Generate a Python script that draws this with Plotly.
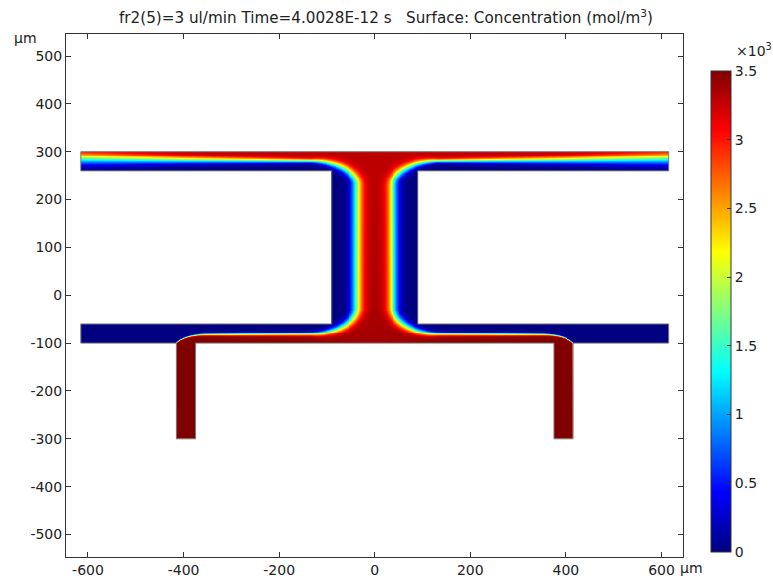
import math
import numpy as np
import plotly.graph_objects as go

# ---------------- geometry (um) ----------------
ch_x_end = 615            # half length of horizontal channels
top_ch_y = [260, 300]     # top channel
bot_ch_y = [-100, -60]    # bottom channel
mid_ch_x = 90             # half width of central vertical channel
leg_x = [375, 415]        # outlet legs (mirrored)
leg_y_bottom = -300

# ---------------- concentration interface (left half) ----------------
leg_curve_x = [-415, -408, -400, -392, -384, -375, -365, -355]
leg_curve_y = [-100, -94.5, -90.5, -87.5, -85.5, -84, -83, -82.5]
bottom_iface_y = -81
vert_iface_x = -38
bc_rx, bc_ry = 95, 55      # bottom corner of interface
tc_rx, tc_ry = 95, 50      # top corner of interface
top_iface_x = [-133, -400, -615, -660]
top_iface_y = [280, 282, 285, 285]
# interface width (um) and plateau value (mol/m3) at the key nodes
node_w = [1, 1.5, 3.5, 5.5, 17, 17, 5.5, 10, 17, 17]
node_hi = [3500, 3500, 3500, 3450, 3350, 3300, 3280, 3290, 3300, 3300]

cmax = 3500
cbar_vals = [0, 500, 1000, 1500, 2000, 2500, 3000, 3500]
cbar_text = ["0", "0.5", "1", "1.5", "2", "2.5", "3", "3.5"]
xticks = [-600, -400, -200, 0, 200, 400, 600]
xtick_text = ["-600", "-400", "-200", "0", "200", "400", "600"]
yticks = [-500, -400, -300, -200, -100, 0, 100, 200, 300, 400, 500]
ytick_text = ["-500", "-400", "-300", "-200", "-100", "0", "100", "200", "300", "400", "500"]

# ---------------- build interface path ----------------
pts = []
keys = []
def add(p, key=False):
    pts.append(p)
    if key:
        keys.append(len(pts) - 1)

add((-415, leg_y_bottom), True)
for i, (x, y) in enumerate(zip(leg_curve_x, leg_curve_y)):
    add((x, y), i == 0 or i == len(leg_curve_x) - 1)
cx, cy = vert_iface_x - bc_rx, bottom_iface_y + bc_ry
add((cx, bottom_iface_y), True)
th = np.linspace(-np.pi / 2, 0, 40)[1:]
for j, t in enumerate(th):
    add((cx + bc_rx * np.cos(t), cy + bc_ry * np.sin(t)), j == len(th) - 1)
cx2, cy2 = vert_iface_x - tc_rx, top_iface_y[0] - tc_ry
add((vert_iface_x, cy2), True)
th = np.linspace(0, np.pi / 2, 40)[1:]
for j, t in enumerate(th):
    add((cx2 + tc_rx * np.cos(t), cy2 + tc_ry * np.sin(t)), j == len(th) - 1)
for x, y in zip(top_iface_x[1:], top_iface_y[1:]):
    add((x, y), True)

P = np.array(pts, dtype=float)
A = P[:-1]
B = P[1:]
D = B - A
L = np.hypot(D[:, 0], D[:, 1])
S0 = np.concatenate([[0], np.cumsum(L)])
s_nodes = S0[keys]

# ---------------- grid ----------------
xs = np.arange(-614, 615, 2.0)
ys = np.arange(-299, 300, 2.0)
X, Y = np.meshgrid(xs, ys)
ax_ = np.abs(X)
inside = (
    ((Y >= top_ch_y[0]) & (Y <= top_ch_y[1]) & (ax_ <= ch_x_end))
    | ((Y >= bot_ch_y[0]) & (Y <= bot_ch_y[1]) & (ax_ <= ch_x_end))
    | ((ax_ <= mid_ch_x) & (Y >= bot_ch_y[0]) & (Y <= top_ch_y[1]))
    | ((ax_ >= leg_x[0]) & (ax_ <= leg_x[1]) & (Y >= leg_y_bottom) & (Y <= bot_ch_y[0]))
)
Z = np.full(X.shape, np.nan)
idx = np.nonzero(inside)
px = -ax_[idx]
py = Y[idx]
Q = np.stack([px, py], axis=1)
vals = np.empty(len(Q))
erf = np.frompyfunc(math.erf, 1, 1)
chunk = 3000
for k in range(0, len(Q), chunk):
    q = Q[k:k + chunk]
    rel = q[:, None, :] - A[None, :, :]
    t = np.clip((rel * D[None]).sum(-1) / (L ** 2)[None], 0, 1)
    proj = A[None] + t[..., None] * D[None]
    dv = q[:, None, :] - proj
    d2 = (dv ** 2).sum(-1)
    j = np.argmin(d2, axis=1)
    r = np.arange(len(q))
    dist = np.sqrt(d2[r, j])
    cr = D[j, 0] * dv[r, j, 1] - D[j, 1] * dv[r, j, 0]
    sd = np.where(cr > 0, -dist, dist)
    s = S0[j] + t[r, j] * L[j]
    w = np.interp(s, s_nodes, node_w)
    hi = np.interp(s, s_nodes, node_hi)
    e = erf(sd / w).astype(float)
    vals[k:k + chunk] = 0.5 * (1 + e) * hi
Z[idx] = np.round(vals)

jet = [[0, "rgb(0,0,128)"], [0.125, "rgb(0,0,255)"], [0.375, "rgb(0,255,255)"],
       [0.625, "rgb(255,255,0)"], [0.875, "rgb(255,0,0)"], [1, "rgb(128,0,0)"]]

W, H = 773, 586
ml, mr, mt, mb = 66, 90, 34, 29
pw, ph = W - ml - mr, H - mt - mb
FONT = "DejaVu Sans"

fig = go.Figure()
fig.add_trace(go.Heatmap(
    x=xs, y=ys, z=Z, zmin=0, zmax=cmax, colorscale=jet, hoverinfo="skip",
    colorbar=dict(
        x=(711 - ml) / pw, xanchor="left", y=(H - mb - 311.5) / ph, yanchor="middle",
        len=481 / ph, lenmode="fraction", thickness=20, xpad=0, ypad=0,
        outlinecolor="#333", outlinewidth=1,
        tickvals=cbar_vals, ticktext=cbar_text, ticks="inside", ticklen=4,
        tickcolor="#333", tickfont=dict(family=FONT, size=14, color="#222"),
    ),
))

# outline of the geometry
ox = [-615, 615, 615, 90, 90, 615, 615, 415, 415, 375, 375, -375, -375, -415, -415, -615, -615, -90, -90, -615, -615]
oy = [300, 300, 260, 260, -60, -60, -100, -100, -300, -300, -100, -100, -300, -300, -100, -100, -60, -60, 260, 260, 300]
fig.add_trace(go.Scatter(x=ox, y=oy, mode="lines", line=dict(color="#7a7a7a", width=1),
                         hoverinfo="skip", showlegend=False))

axis_common = dict(showgrid=False, zeroline=False, showline=True, linecolor="#333", linewidth=1,
                   mirror="ticks", ticks="inside", ticklen=5, tickcolor="#333",
                   tickfont=dict(family=FONT, size=14, color="#222"))
fig.update_xaxes(range=[-646, 645], tickvals=xticks, ticktext=xtick_text, **axis_common)
fig.update_yaxes(range=[-547, 546], tickvals=yticks, ticktext=ytick_text, **axis_common)

fig.update_layout(
    width=W, height=H, margin=dict(l=ml, r=mr, t=mt, b=mb, autoexpand=False),
    paper_bgcolor="white", plot_bgcolor="white", showlegend=False,
    font=dict(family=FONT, color="#222"),
    title=dict(text="fr2(5)=3 ul/min Time=4.0028E-12 s   Surface: Concentration (mol/m<sup>3</sup>)",
               x=(386 - ml) / pw, xref="paper", xanchor="center", y=1 - 18 / H, yanchor="middle",
               font=dict(family=FONT, size=15.2, color="#222")),
    annotations=[
        dict(text="\u03bcm", xref="paper", yref="paper", x=(25 - ml) / pw, y=(H - mb - 38) / ph,
             showarrow=False, font=dict(family=FONT, size=14, color="#222"), xanchor="center", yanchor="middle"),
        dict(text="\u03bcm", xref="paper", yref="paper", x=(691 - ml) / pw, y=(H - mb - 568) / ph,
             showarrow=False, font=dict(family=FONT, size=14, color="#222"), xanchor="center", yanchor="middle"),
        dict(text="\u00d710<sup>3</sup>", xref="paper", yref="paper", x=(754 - ml) / pw, y=(H - mb - 50) / ph,
             showarrow=False, font=dict(family=FONT, size=14, color="#222"), xanchor="center", yanchor="middle"),
    ],
)
fig.write_html("out.html", config={"displayModeBar": False},
               post_script="document.body.style.margin='0';document.body.style.padding='0';")
